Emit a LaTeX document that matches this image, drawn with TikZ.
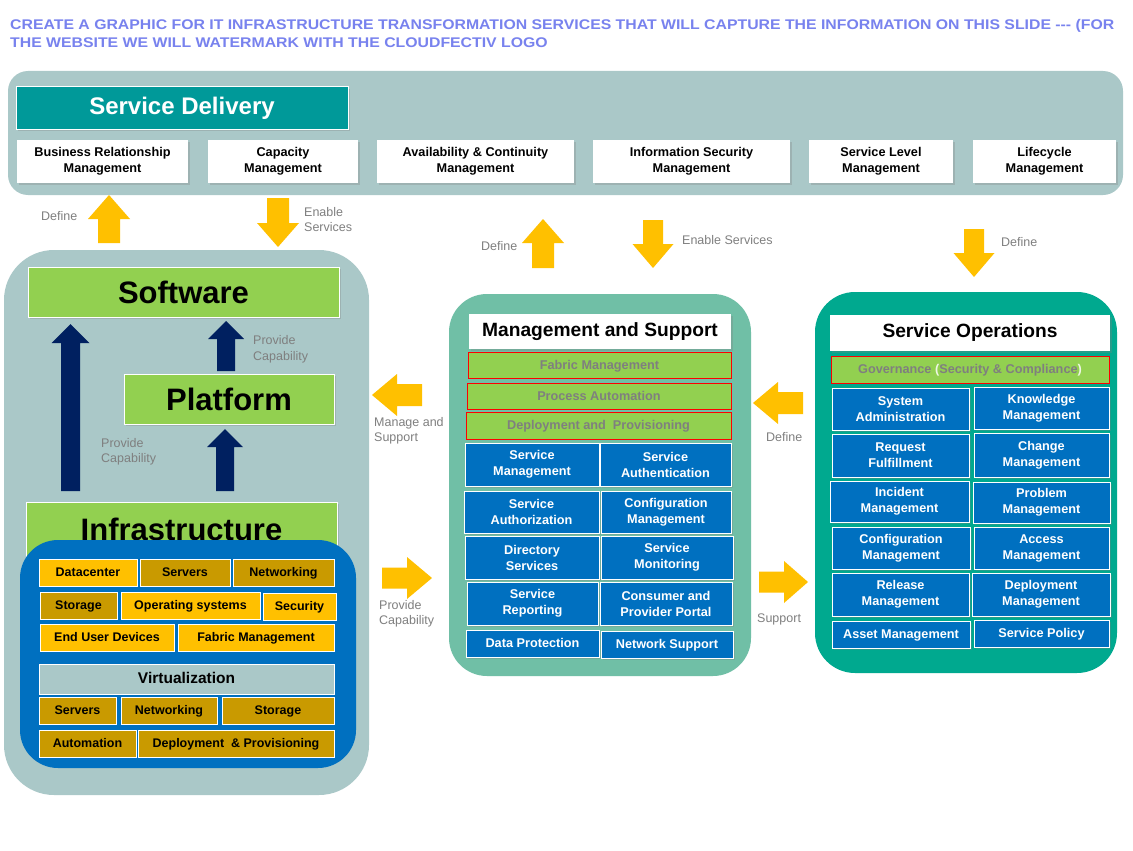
\documentclass[tikz,border=0pt]{standalone}
\usepackage{fontspec}
\setmainfont{Liberation Sans}
\usetikzlibrary{shadows}
\definecolor{sdgray}{HTML}{AAC8C8}
\definecolor{sdteal}{HTML}{009999}
\definecolor{grn}{HTML}{92D050}
\definecolor{blu}{HTML}{0070C0}
\definecolor{navy}{HTML}{002060}
\definecolor{yel}{HTML}{FFC000}
\definecolor{gold}{HTML}{C99A00}
\definecolor{midg}{HTML}{70BFA6}
\definecolor{rgt}{HTML}{00A98F}
\definecolor{lblgray}{HTML}{7F7F7F}
\definecolor{ttl}{HTML}{7882EE}
\definecolor{pale}{HTML}{EEF6E4}
\newcommand{\FS}[2]{\fontsize{#1}{#2}\selectfont}
\newcommand{\Bx}[7]{\node[#2,anchor=north west,minimum width={(#5)-(#3)},minimum height={(#6)-(#4)}] (#1) at (#3,#4) {#7};}
\newcommand{\VArr}[7]{\fill[#1] ({#2-#6},#3) -- ({#2-#6},#4) -- ({#2-#7},#4) -- (#2,#5) -- ({#2+#7},#4) -- ({#2+#6},#4) -- ({#2+#6},#3) -- cycle;}
\newcommand{\HArr}[7]{\fill[#1] (#3,{#2-#6}) -- (#4,{#2-#6}) -- (#4,{#2-#7}) -- (#5,#2) -- (#4,{#2+#7}) -- (#4,{#2+#6}) -- (#3,{#2+#6}) -- cycle;}
\newcommand{\TopStrut}{\rule{0pt}{13pt}}
\tikzset{
  base/.style={rectangle, inner sep=1pt, outer sep=0pt, align=center},
  one/.style={text height=10.8pt, text depth=2.6pt},
  shd/.style={drop shadow={shadow xshift=1.5pt, shadow yshift=-2pt, opacity=0.3}},
  sdbox/.style={base, fill=white, font=\bfseries\FS{12.7}{16}, shd, execute at begin node=\TopStrut},
  sdtitle/.style={base, fill=sdteal, draw=white, line width=1pt, text=white, font=\bfseries\FS{24}{28}, shd},
  bigg/.style={base, fill=grn, draw=white, line width=1pt, font=\bfseries\FS{31}{34}, shd},
  yelbox/.style={base, one, fill=yel, draw=white, line width=0.8pt, font=\bfseries\FS{12.5}{15}},
  goldbox/.style={base, one, fill=gold, draw=white, line width=0.8pt, font=\bfseries\FS{12.5}{15}},
  virt/.style={base, fill=sdgray, draw=white, line width=0.8pt, font=\bfseries\FS{15.5}{18}, text height=12.5pt, text depth=3.2pt},
  wtitle/.style={base, fill=white, font=\bfseries\FS{19.2}{23}, shd},
  redg/.style={base, one, fill=grn, draw=red, line width=1pt, text=lblgray, font=\bfseries\FS{12.7}{15}},
  bbox/.style={base, fill=blu, draw=white, line width=0.9pt, text=white, font=\bfseries\FS{12.7}{16}, shd, execute at begin node=\TopStrut},
  bone/.style={base, one, fill=blu, draw=white, line width=0.9pt, text=white, font=\bfseries\FS{12.7}{16}, shd},
  lbl/.style={text=lblgray, font=\FS{12.5}{15.5}, align=left, inner sep=0pt, anchor=west},
  ttlf/.style={anchor=base west, inner sep=0pt, text=ttl, font=\bfseries\FS{14}{17}},
}
\begin{document}
\begin{tikzpicture}[x=1pt,y=-1pt]
\useasboundingbox (0,0) rectangle (1133,851);
\fill[white] (0,0) rectangle (1133,851);
% title
\node[ttlf] (t1) at (10,30) {\scalebox{1.13}[1]{CREATE A GRAPHIC FOR IT INFRASTRUCTURE TRANSFORMATION SERVICES THAT WILL CAPTURE THE INFORMATION ON THIS SLIDE {-}{-}{-} (FOR}};
\node[ttlf] (t2) at (10,48) {\scalebox{1.13}[1]{THE WEBSITE WE WILL WATERMARK WITH THE CLOUDFECTIV LOGO}};
% panels
\fill[sdgray] (8,71) [rounded corners=20pt] rectangle (1123,195);
\fill[sdgray] (4,250) [rounded corners=50pt] rectangle (369,795);
\fill[midg] (449,294) [rounded corners=38pt] rectangle (751,676);
\fill[rgt] (815,292) [rounded corners=40pt] rectangle (1117,673);
% service delivery
\Bx{sdt}{sdtitle}{16}{87}{348}{129}{Service Delivery}
\Bx{sd1}{sdbox}{17}{140}{188}{183}{Business Relationship\\Management}
\Bx{sd2}{sdbox}{208}{140}{358}{183}{Capacity\\Management}
\Bx{sd3}{sdbox}{377}{140}{574}{183}{Availability \& Continuity\\Management}
\Bx{sd4}{sdbox}{593}{140}{790}{183}{Information Security\\Management}
\Bx{sd5}{sdbox}{809}{140}{953}{183}{Service Level\\Management}
\Bx{sd6}{sdbox}{973}{140}{1116}{183}{Lifecycle\\Management}
% left stack
\Bx{sw}{bigg}{28}{267}{339}{317}{Software}
\Bx{pf}{bigg}{124}{374}{334}{424}{Platform}
\Bx{inf}{bigg}{26}{502}{337}{556}{Infrastructure}
\VArr{navy}{70.5}{491}{343}{324}{9.5}{19}
\VArr{navy}{226}{371}{339}{321}{9}{18}
\VArr{navy}{225}{491}{447}{429}{9}{18}
\fill[blu] (20,540) [rounded corners=38pt] rectangle (356,768);
\Bx{i1}{yelbox}{39}{559}{137}{586}{Datacenter}
\Bx{i2}{goldbox}{140}{559}{230}{586}{Servers}
\Bx{i3}{goldbox}{233}{559}{334}{586}{Networking}
\Bx{i4}{goldbox}{40}{592}{117}{619}{Storage}
\Bx{i5}{yelbox}{121}{592}{260}{619}{Operating systems}
\Bx{i6}{yelbox}{263}{593}{336}{620}{Security}
\Bx{i7}{yelbox}{40}{624}{174}{651}{End User Devices}
\Bx{i8}{yelbox}{178}{624}{334}{651}{Fabric Management}
\Bx{vz}{virt}{39}{664}{334}{694}{Virtualization}
\Bx{v1}{goldbox}{39}{697}{116}{724}{Servers}
\Bx{v2}{goldbox}{121}{697}{217}{724}{Networking}
\Bx{v3}{goldbox}{222}{697}{334}{724}{Storage}
\Bx{v4}{goldbox}{39}{730}{136}{757}{Automation}
\Bx{v5}{goldbox}{138}{730}{334}{757}{Deployment\ \ \& Provisioning}
% middle
\Bx{mst}{wtitle}{469}{314}{731}{349}{Management and Support}
\Bx{mf}{redg}{468}{352}{731}{378}{Fabric Management}
\Bx{mp}{redg}{467}{383}{731}{409}{Process Automation}
\Bx{md}{redg}{466}{412}{731}{439}{Deployment and\ \ Provisioning}
\Bx{m1}{bbox}{465}{443}{599}{486}{Service\\Management}
\Bx{m2}{bbox}{600}{443}{731}{486}{Service\\Authentication}
\Bx{m3}{bbox}{464}{491}{599}{533}{Service\\Authorization}
\Bx{m4}{bbox}{601}{491}{731}{533}{Configuration\\Management}
\Bx{m5}{bbox}{465}{536}{599}{579}{Directory\\Services}
\Bx{m6}{bbox}{601}{536}{733}{579}{Service\\Monitoring}
\Bx{m7}{bbox}{467}{582}{598}{625}{Service\\Reporting}
\Bx{m8}{bbox}{600}{582}{732}{625}{Consumer and\\Provider Portal}
\Bx{m9}{bone}{466}{630}{599}{657}{Data Protection}
\Bx{m10}{bone}{601}{631}{733}{658}{Network Support}
% right
\Bx{sot}{wtitle}{830}{315}{1110}{351}{Service Operations}
\Bx{gov}{redg}{831}{356}{1109}{383}{Governance {\color{pale}(}Security \& Compliance{\color{pale})}}
\Bx{r1}{bbox}{832}{388}{969}{430}{System\\Administration}
\Bx{r2}{bbox}{974}{387}{1109}{429}{Knowledge\\Management}
\Bx{r3}{bbox}{832}{434}{969}{477}{Request\\Fulfillment}
\Bx{r4}{bbox}{974}{433}{1109}{477}{Change\\Management}
\Bx{r5}{bbox}{830}{481}{969}{522}{Incident\\Management}
\Bx{r6}{bbox}{973}{482}{1110}{523}{Problem\\Management}
\Bx{r7}{bbox}{832}{527}{970}{569}{Configuration\\Management}
\Bx{r8}{bbox}{974}{527}{1109}{569}{Access\\Management}
\Bx{r9}{bbox}{832}{573}{969}{616}{Release\\Management}
\Bx{r10}{bbox}{972}{573}{1110}{616}{Deployment\\Management}
\Bx{r11}{bone}{832}{621}{970}{648}{Asset Management}
\Bx{r12}{bone}{974}{620}{1109}{647}{Service Policy}
% yellow arrows
\VArr{yel}{109}{243}{219}{195}{11}{21}
\VArr{yel}{278}{198}{223}{247}{11}{21}
\VArr{yel}{543}{268}{243}{219}{11}{21}
\VArr{yel}{653}{220}{244}{268}{10}{20.5}
\VArr{yel}{974}{229}{253}{277}{10}{20.5}
\HArr{yel}{395}{422}{397}{372}{11}{21}
\HArr{yel}{403}{803}{778}{753}{11}{21}
\HArr{yel}{578}{382}{407}{432}{10.5}{21}
\HArr{yel}{582}{759}{784}{808}{10.5}{21}
% labels
\node[lbl] (l1) at (41,216) {Define};
\node[lbl] (l2) at (304,219.5) {Enable\\Services};
\node[lbl] (l3) at (481,246) {Define};
\node[lbl] (l4) at (682,240) {Enable Services};
\node[lbl] (l5) at (1001,242) {Define};
\node[lbl] (l6) at (253,349.5) {Provide\\Capability};
\node[lbl] (l7) at (101,452) {Provide\\Capability};
\node[lbl] (l8) at (374,431) {Manage and\\Support};
\node[lbl] (l9) at (766,437) {Define};
\node[lbl] (l10) at (379,614) {Provide\\Capability};
\node[lbl] (l11) at (757,619) {Support};
\end{tikzpicture}
\end{document}
